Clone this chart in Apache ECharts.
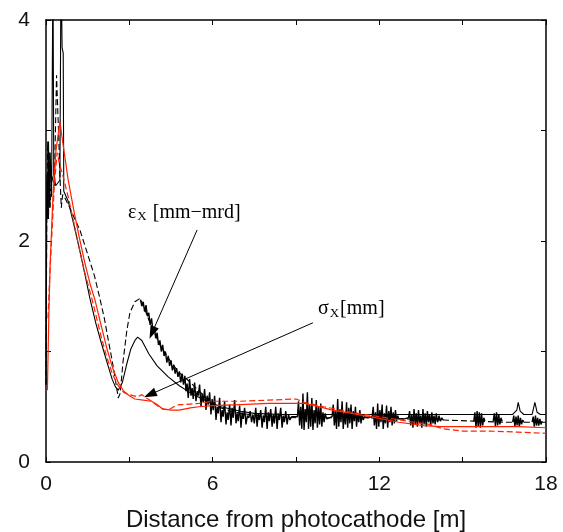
<!DOCTYPE html>
<html><head><meta charset="utf-8">
<script src="https://cdn.jsdelivr.net/npm/echarts@6/dist/echarts.min.js"></script>
<style>html,body{margin:0;padding:0;background:#fff}#c{width:563px;height:532px}</style>
</head><body><div id="c"></div>
<script>
// Tick labels
const xTickLabels = ['0', '6', '12', '18'];
const yTickLabels = ['0', '2', '4'];
const xName = 'Distance from photocathode [m]';

// Emittance, black solid
const epsSolid = [
  [0,0.7],[0.03,2.6],[0.06,2.2],[0.09,2.9],[0.12,2.3],[0.15,2.8],[0.2,2.4],[0.25,4.5],[0.28,2.6],[0.35,2.5],
  [0.5,2.55],[0.54,4.5],[0.58,3.75],[0.62,3.7],[0.64,2.45],[0.8,2.36],[1.0,2.15],[1.2,1.93],[1.4,1.7],
  [1.58,1.48],[1.8,1.25],[2.0,1.07],[2.2,0.9],[2.38,0.75],[2.5,0.68],[2.6,0.65],[2.75,0.72],[2.9,0.88],
  [3.05,1.02],[3.2,1.1],[3.3,1.13],[3.45,1.1],[3.7,0.98],[4.0,0.87],[4.4,0.77],[4.8,0.69],[5.3,0.61],
  [5.8,0.55],[6.3,0.5],[7.0,0.46],[7.5,0.44],[8.5,0.43],[12,0.43],[16.8,0.43],[16.95,0.47],[17.0,0.54],
  [17.07,0.46],[17.2,0.43],[17.5,0.43],[17.6,0.54],[17.68,0.45],[17.8,0.43],[18,0.43]
];

// Emittance, black dashed (smooth part)
const epsDashed = [
  [0,0.7],[0.03,2.3],[0.06,2.9],[0.09,2.2],[0.12,2.8],[0.15,2.3],[0.2,2.6],[0.3,2.5],[0.38,3.5],[0.45,3.0],
  [0.5,2.6],[0.55,2.3],[0.6,2.42],[0.7,2.38],[0.86,2.3],[1.0,2.22],[1.22,2.1],[1.5,1.88],[1.75,1.68],
  [1.94,1.48],[2.1,1.3],[2.23,1.12],[2.38,0.92],[2.5,0.74],[2.6,0.58],[2.67,0.62],[2.77,0.9],[2.91,1.19],
  [3.02,1.35],[3.2,1.45],[3.38,1.48],[3.5,1.42],[3.74,1.26],[4.1,1.06],[4.46,0.92],[4.75,0.82],[5.2,0.72],
  [5.6,0.62],[6.0,0.52],[6.5,0.47],[7.0,0.44],[8.0,0.41],[9.0,0.4],[10.2,0.4],[11.6,0.4],[12.9,0.39],
  [14.3,0.38],[15.4,0.37],[16.5,0.36],[18,0.36]
];

// Emittance, black dashed: noisy bursts (null = gap)
const epsNoise = [
  [3.4,1.47],[3.45,1.41],[3.5,1.45],[3.55,1.36],[3.6,1.42],[3.65,1.32],[3.7,1.35],[3.75,1.24],[3.8,1.3],
  [3.85,1.18],[3.9,1.22],[3.95,1.12],[4.0,1.17],[4.05,1.06],[4.1,1.1],[4.15,1.0],[4.2,1.06],[4.25,0.96],
  [4.3,1.0],[4.35,0.9],[4.4,0.96],[4.45,0.87],[4.5,0.92],[4.55,0.83],[4.6,0.88],[4.65,0.8],[4.7,0.85],
  [4.75,0.77],[4.8,0.82],[4.85,0.72],[4.9,0.8],[4.95,0.7],
  [5.0,0.78],[5.04,0.64],[5.08,0.71],[5.12,0.58],[5.17,0.75],[5.22,0.6],[5.26,0.67],[5.3,0.57],[5.35,0.72],
  [5.4,0.55],[5.44,0.64],[5.48,0.6],[5.53,0.7],[5.58,0.5],[5.62,0.62],[5.66,0.54],[5.71,0.66],[5.76,0.47],
  [5.8,0.6],[5.84,0.52],[5.89,0.63],[5.94,0.43],[5.98,0.57],[6.02,0.47],[6.07,0.6],[6.12,0.38],[6.16,0.5],
  [6.2,0.44],[6.25,0.58],[6.3,0.36],[6.34,0.47],[6.38,0.41],[6.43,0.55],[6.48,0.34],[6.52,0.45],[6.56,0.38],
  [6.61,0.52],[6.66,0.33],[6.7,0.49],[6.74,0.4],[6.79,0.56],[6.84,0.35],[6.88,0.44],[6.92,0.37],[6.97,0.51],
  [7.02,0.31],[7.06,0.45],[7.1,0.39],[7.15,0.49],[7.2,0.34],[7.25,0.42],[7.3,0.4],[7.35,0.46],[7.4,0.36],
  [7.45,0.43],[7.5,0.35],[7.55,0.49],[7.6,0.32],[7.64,0.44],[7.68,0.38],[7.73,0.47],[7.78,0.31],[7.82,0.42],
  [7.86,0.36],[7.91,0.5],[7.96,0.3],[8.0,0.45],[8.04,0.37],[8.09,0.48],[8.14,0.32],[8.18,0.43],[8.22,0.35],
  [8.27,0.5],[8.32,0.3],[8.36,0.44],[8.4,0.38],[8.45,0.49],[8.5,0.31],[8.54,0.42],[8.58,0.36],[8.63,0.46],
  [8.68,0.34],[8.73,0.43],[8.78,0.38],[8.84,0.41],[8.9,0.4],
  [9.05,0.41],[9.09,0.55],[9.13,0.33],[9.17,0.5],[9.21,0.3],[9.25,0.62],[9.29,0.29],[9.33,0.48],[9.37,0.36],
  [9.41,0.63],[9.45,0.3],[9.49,0.52],[9.53,0.32],[9.57,0.58],[9.61,0.29],[9.65,0.47],[9.69,0.35],[9.73,0.56],
  [9.77,0.31],[9.81,0.5],[9.85,0.34],[9.89,0.53],[9.93,0.32],[9.97,0.45],[10.01,0.36],[10.05,0.44],[10.1,0.39],
  [10.2,0.4],
  [10.3,0.41],[10.34,0.52],[10.38,0.33],[10.42,0.46],[10.46,0.3],[10.5,0.57],[10.54,0.32],[10.58,0.48],
  [10.62,0.36],[10.66,0.55],[10.7,0.3],[10.74,0.45],[10.78,0.34],[10.82,0.54],[10.86,0.31],[10.9,0.49],
  [10.94,0.35],[10.98,0.52],[11.02,0.3],[11.06,0.46],[11.1,0.37],[11.14,0.5],[11.18,0.32],[11.22,0.44],
  [11.26,0.36],[11.3,0.47],[11.34,0.35],[11.38,0.43],[11.42,0.38],[11.46,0.41],
  [11.6,0.4],[11.74,0.41],[11.78,0.5],[11.82,0.33],[11.86,0.45],[11.9,0.3],[11.94,0.53],[11.98,0.32],
  [12.02,0.47],[12.06,0.36],[12.1,0.52],[12.14,0.3],[12.18,0.44],[12.22,0.35],[12.26,0.51],[12.3,0.31],
  [12.34,0.46],[12.38,0.36],[12.42,0.5],[12.46,0.33],[12.5,0.45],[12.54,0.35],[12.58,0.47],[12.62,0.37],
  [12.66,0.42],[12.7,0.39],
  [12.9,0.39],[13.05,0.4],[13.09,0.46],[13.13,0.33],[13.17,0.43],[13.21,0.31],[13.25,0.48],[13.29,0.34],
  [13.33,0.44],[13.37,0.32],[13.41,0.47],[13.45,0.35],[13.49,0.42],[13.53,0.31],[13.57,0.48],[13.61,0.34],
  [13.65,0.44],[13.69,0.32],[13.73,0.46],[13.77,0.36],[13.81,0.43],[13.85,0.33],[13.89,0.45],[13.93,0.35],
  [13.97,0.42],[14.01,0.34],[14.05,0.44],[14.1,0.36],[14.15,0.42],[14.2,0.37],[14.25,0.4],[14.3,0.38],
  null,
  [15.4,0.37],[15.44,0.45],[15.48,0.31],[15.52,0.46],[15.56,0.32],[15.6,0.45],[15.64,0.31],[15.68,0.44],
  [15.72,0.33],[15.76,0.4],[15.8,0.37],
  null,
  [16.1,0.37],[16.14,0.44],[16.18,0.32],[16.22,0.45],[16.26,0.33],[16.3,0.43],[16.34,0.34],[16.38,0.4],
  [16.42,0.37],
  null,
  [16.8,0.36],[16.84,0.42],[16.88,0.32],[16.92,0.41],[16.96,0.33],[17.0,0.42],[17.04,0.32],[17.08,0.4],
  [17.12,0.34],[17.16,0.38],[17.2,0.36],
  null,
  [17.5,0.36],[17.54,0.41],[17.58,0.32],[17.62,0.42],[17.66,0.33],[17.7,0.4],[17.74,0.33],[17.78,0.39],
  [17.82,0.34],[17.86,0.37]
];

// Beam size, red solid
const sigSolid = [
  [0.05,0.65],[0.1,1.3],[0.15,1.8],[0.25,2.4],[0.35,2.8],[0.5,3.08],[0.6,2.9],[0.8,2.55],[1.0,2.28],
  [1.2,2.03],[1.4,1.8],[1.6,1.6],[1.76,1.47],[2.0,1.22],[2.2,1.02],[2.4,0.85],[2.6,0.72],[2.8,0.64],
  [3.0,0.6],[3.2,0.57],[3.5,0.56],[3.8,0.55],[4.0,0.52],[4.2,0.48],[4.5,0.47],[4.8,0.47],[5.2,0.49],
  [5.5,0.5],[6.0,0.51],[7.0,0.52],[8.0,0.53],[9.0,0.53],[9.3,0.53],[10.0,0.49],[10.3,0.47],[11.0,0.44],
  [11.9,0.4],[12.7,0.36],[13.6,0.33],[14.2,0.32],[15.0,0.32],[16.0,0.32],[17.0,0.32],[18,0.31]
];

// Beam size, red dashed
const sigDashed = [
  [0.07,1.3],[0.12,1.6],[0.2,2.0],[0.3,2.5],[0.4,2.8],[0.5,2.68],[0.6,2.6],[0.8,2.4],[1.0,2.17],
  [1.2,1.93],[1.4,1.71],[1.66,1.47],[2.0,1.12],[2.2,0.94],[2.4,0.79],[2.6,0.69],[2.8,0.63],[3.0,0.61],
  [3.3,0.59],[3.45,0.61],[3.6,0.58],[3.8,0.55],[4.0,0.51],[4.2,0.48],[4.4,0.47],[4.6,0.5],[4.8,0.52],
  [5.0,0.52],[5.5,0.53],[6.0,0.55],[7.0,0.55],[8.0,0.56],[9.0,0.57],[9.3,0.54],[10.0,0.5],[11.0,0.45],
  [12.0,0.41],[13.0,0.37],[13.8,0.34],[14.3,0.3],[15.0,0.28],[16.0,0.28],[17.0,0.27],[18,0.26]
];

// Annotation anchors (data coordinates)
const epsArrow = [[5.44, 2.1], [3.82, 1.17]];
const sigArrow = [[9.61, 1.26], [3.74, 0.61]];
const epsLabelPos = [2.95, 2.24];
const sigLabelPos = [9.79, 1.37];

const BLACK = '#000';
const RED = '#ff2200';
const FONT = 'Liberation Sans, Arial, sans-serif';
const SERIF = 'Liberation Serif, Times New Roman, serif';

const chart = echarts.init(document.getElementById('c'), null, {renderer: 'canvas'});

function xFmt(v) { const s = String(v); return xTickLabels.indexOf(s) >= 0 ? s : ''; }
function yFmt(v) { const s = String(v); return yTickLabels.indexOf(s) >= 0 ? s : ''; }

const axisLine = {show: true, onZero: false, lineStyle: {color: BLACK, width: 1.5}};
const ticks = {show: true, inside: true, length: 5, lineStyle: {color: BLACK, width: 1}};

chart.setOption({
  animation: false,
  backgroundColor: '#fff',
  grid: {left: 46, right: 17, top: 20, bottom: 70, outerBoundsMode: 'none', containLabel: false},
  xAxis: [
    {type: 'value', min: 0, max: 18, interval: 3, position: 'bottom',
     axisLine: axisLine, axisTick: ticks, splitLine: {show: false},
     axisLabel: {formatter: xFmt, fontSize: 21, color: '#111', fontFamily: FONT, margin: 12},
     name: xName, nameLocation: 'middle', nameGap: 46,
     nameTextStyle: {fontSize: 24, color: '#111', fontFamily: FONT}},
    {type: 'value', min: 0, max: 18, interval: 3, position: 'top',
     axisLine: axisLine, axisTick: ticks, splitLine: {show: false}, axisLabel: {show: false}}
  ],
  yAxis: [
    {type: 'value', min: 0, max: 4, interval: 1, position: 'left',
     axisLine: axisLine, axisTick: ticks, splitLine: {show: false},
     axisLabel: {formatter: yFmt, fontSize: 21, color: '#111', fontFamily: FONT, margin: 16}},
    {type: 'value', min: 0, max: 4, interval: 1, position: 'right',
     axisLine: axisLine, axisTick: ticks, splitLine: {show: false}, axisLabel: {show: false}}
  ],
  series: [
    {type: 'line', data: epsSolid, showSymbol: false, symbol: 'none', clip: true,
     lineStyle: {color: BLACK, width: 1.1}, z: 3,
     markLine: {silent: true, animation: false,
       label: {show: false}, lineStyle: {color: BLACK, width: 1, type: 'solid'},
       data: [
         [{coord: epsArrow[0], symbol: 'none'}, {coord: epsArrow[1], symbol: 'triangle', symbolSize: [9, 13]}],
         [{coord: sigArrow[0], symbol: 'none'}, {coord: sigArrow[1], symbol: 'triangle', symbolSize: [9, 13]}]
       ]}},
    {type: 'line', data: epsDashed, showSymbol: false, symbol: 'none', clip: true,
     lineStyle: {color: BLACK, width: 1.1, type: [6, 3]}, z: 3},
    {type: 'line', data: epsNoise, showSymbol: false, symbol: 'none', clip: true, connectNulls: false,
     lineStyle: {color: BLACK, width: 1.4}, z: 3},
    {type: 'line', data: sigSolid, showSymbol: false, symbol: 'none', clip: true,
     lineStyle: {color: RED, width: 1.2}, z: 4},
    {type: 'line', data: sigDashed, showSymbol: false, symbol: 'none', clip: true,
     lineStyle: {color: RED, width: 1.2, type: [6, 3]}, z: 4}
  ]
});

const p1 = chart.convertToPixel({xAxisIndex: 0, yAxisIndex: 0}, epsLabelPos);
const p2 = chart.convertToPixel({xAxisIndex: 0, yAxisIndex: 0}, sigLabelPos);
const rich = {
  a: {fontFamily: SERIF, fontSize: 20, color: '#222'},
  s: {fontFamily: SERIF, fontSize: 13, color: '#222', padding: [9, 1, 0, 1]}
};
chart.setOption({
  graphic: [
    {type: 'text', left: p1[0], top: p1[1] - 12, z: 10,
     style: {text: '{a|ε}{s|X}{a| [mm−mrd]}', rich: rich}},
    {type: 'text', left: p2[0], top: p2[1] - 12, z: 10,
     style: {text: '{a|σ}{s|X}{a|[mm]}', rich: rich}}
  ]
});
</script>
</body></html>
